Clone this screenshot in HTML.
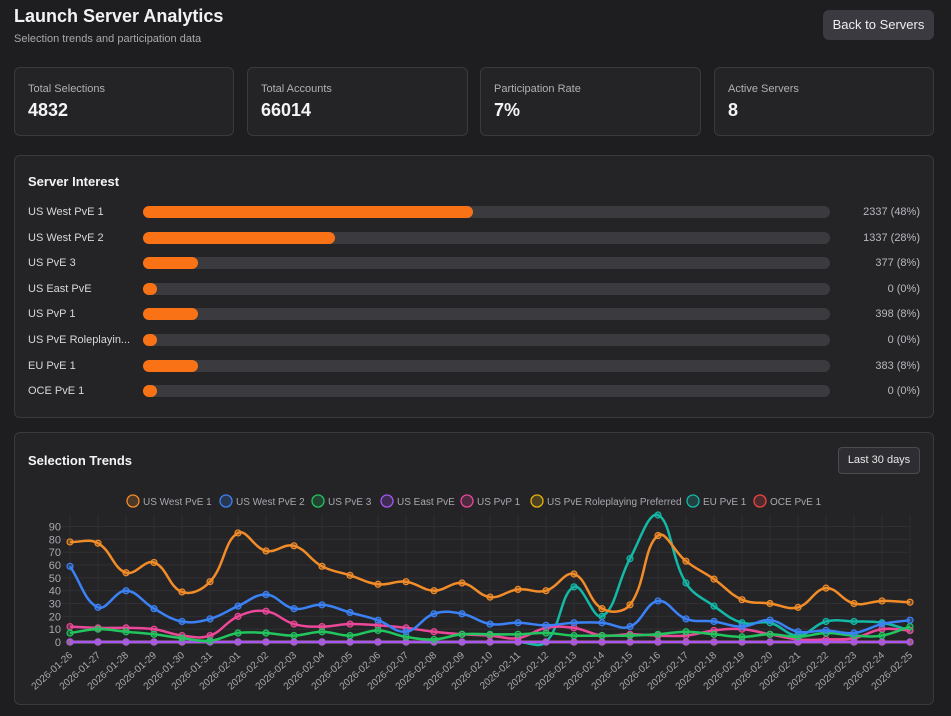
<!DOCTYPE html>
<html><head><meta charset="utf-8">
<style>
*{box-sizing:border-box;margin:0;padding:0}
body{width:951px;height:716px;background:#1e1e20;font-family:"Liberation Sans",sans-serif;color:#e8e8ea;position:relative;overflow:hidden}
.abs{position:absolute}
h1{position:absolute;left:14px;top:6px;font-size:18px;font-weight:bold;color:#f2f2f4}
.sub{left:14px;top:33px;font-size:11px;color:#a8a8ae}
.btn{left:823px;top:10px;width:111px;height:30px;background:#3a3a40;border-radius:6px;font-size:13px;line-height:30px;text-align:center;color:#f0f0f2}
.card{background:#242427;border:1px solid #3a3a3e;border-radius:6px}
.sl{font-size:11px;color:#b0b0b6;position:absolute;left:13px;top:15px}
.sv{font-size:18px;font-weight:bold;position:absolute;left:13px;top:32px;color:#f4f4f6}
.ct{font-size:13px;font-weight:bold;color:#f4f4f6}
.rl{font-size:11px;color:#d8d8dc;left:28px}
.tr{left:143px;width:687px;height:12px;background:#3a3a3f;border-radius:6px}
.fl{position:absolute;left:0;top:0;height:12px;background:#f97316;border-radius:6px;min-width:14px}
.rv{font-size:11px;color:#b8b8be;right:31px;text-align:right}
</style></head><body>
<h1>Launch Server Analytics</h1>
<div class="abs sub">Selection trends and participation data</div>
<div class="abs btn">Back to Servers</div>

<div class="abs card" style="left:14px;top:67px;width:220px;height:69px"><div class="sl">Total Selections</div><div class="sv">4832</div></div>
<div class="abs card" style="left:247px;top:67px;width:221px;height:69px"><div class="sl">Total Accounts</div><div class="sv">66014</div></div>
<div class="abs card" style="left:480px;top:67px;width:221px;height:69px"><div class="sl">Participation Rate</div><div class="sv">7%</div></div>
<div class="abs card" style="left:714px;top:67px;width:220px;height:69px"><div class="sl">Active Servers</div><div class="sv">8</div></div>

<div class="abs card" style="left:14px;top:155px;width:920px;height:263px"></div>
<div class="abs ct" style="left:28px;top:174px">Server Interest</div>
<div id="rows"></div>

<div class="abs card" style="left:14px;top:432px;width:920px;height:273px"></div>
<div class="abs ct" style="left:28px;top:453px">Selection Trends</div>
<div class="abs" style="left:838px;top:447px;width:82px;height:27px;background:#2e2e32;border:1px solid #4a4a50;border-radius:4px;font-size:11px;line-height:25px;text-align:center;color:#e8e8ea">Last 30 days</div>
<svg id="chart" class="abs" style="left:0;top:0" width="951" height="716"></svg>

<script>
const servers=["US West PvE 1","US West PvE 2","US PvE 3","US East PvE","US PvP 1","US PvE Roleplayin...","EU PvE 1","OCE PvE 1"];
const counts=[2337,1337,377,0,398,0,383,0];
const pcts=[48,28,8,0,8,0,8,0];
const rows=document.getElementById('rows');
servers.forEach((s,i)=>{
  const y=206+i*25.6;
  const l=document.createElement('div');l.className='abs rl';l.style.top=y+'px';l.textContent=s;
  
  
  rows.appendChild(l);
  const t=document.createElement('div');t.className='abs tr';t.style.top=y+'px';
  
  
  const f=document.createElement('div');f.className='fl';f.style.width=(pcts[i]/100*687)+'px';
  
  
  t.appendChild(f);rows.appendChild(t);
  const v=document.createElement('div');v.className='abs rv';v.style.top=y+'px';v.textContent=counts[i]+' ('+pcts[i]+'%)';
  
  
  rows.appendChild(v);
});
</script>
<script>
const dates=["2026-01-26","2026-01-27","2026-01-28","2026-01-29","2026-01-30","2026-01-31","2026-02-01","2026-02-02","2026-02-03","2026-02-04","2026-02-05","2026-02-06","2026-02-07","2026-02-08","2026-02-09","2026-02-10","2026-02-11","2026-02-12","2026-02-13","2026-02-14","2026-02-15","2026-02-16","2026-02-17","2026-02-18","2026-02-19","2026-02-20","2026-02-21","2026-02-22","2026-02-23","2026-02-24","2026-02-25"];
const yTicks=[0,10,20,30,40,50,60,70,80,90];
const seriesNames=["US West PvE 1","US West PvE 2","US PvE 3","US East PvE","US PvP 1","US PvE Roleplaying Preferred","EU PvE 1","OCE PvE 1"];
const seriesColors=["#f28c28","#3b82f6","#22c55e","#a855f7","#ec4899","#eab308","#14b8a6","#ef4444"];
const westPvE1=[78,77,54,62,39,47,85,71,75,59,52,45,47,40,46,35,41,40,53,26,29,83,63,49,33,30,27,42,30,32,31];
const westPvE2=[59,27,40,26,16,18,28,37,26,29,23,17,8,22,22,14,15,13,15,15,12,32,18,16,12,17,8,9,7,14,17];
const pve3=[7,10,8,6,3,1,7,7,5,8,5,9,4,2,6,6,6,7,5,5,5,6,8,6,4,6,4,7,5,5,12];
const eastPvE=[0,0,0,0,0,0,0,0,0,0,0,0,0,0,0,0,0,0,0,0,0,0,0,0,0,0,0,0,0,0,0];
const pvp1=[12,11,11,10,5,5,20,24,14,12,14,13,11,8,6,5,3,11,11,5,6,5,5,9,10,6,2,2,3,10,9];
const roleplay=[0,0,0,0,0,0,0,0,0,0,0,0,0,0,0,0,0,0,0,0,0,0,0,0,0,0,0,0,0,0,0];
const euPvE1=[0,0,0,0,0,0,0,0,0,0,0,0,0,0,0,0,0,0,43,20,65,99,46,28,15,15,5,16,16,15,9];
const ocePvE1=[0,0,0,0,0,0,0,0,0,0,0,0,0,0,0,0,0,0,0,0,0,0,0,0,0,0,0,0,0,0,0];
const allSeries=[westPvE1,westPvE2,pve3,eastPvE,pvp1,roleplay,euPvE1,ocePvE1];
const drawOrder=[7,6,5,4,3,2,1,0];

const svg=document.getElementById('chart');const NS='http://www.w3.org/2000/svg';
const X0=70,X1=910,Y0=642,YMAX=99,YTOP=515;
const xs=i=>X0+i*(X1-X0)/(dates.length-1);
const ys=v=>Y0-v*(Y0-YTOP)/YMAX;
function el(t,a){const e=document.createElementNS(NS,t);for(const k in a)e.setAttribute(k,a[k]);svg.appendChild(e);return e;}
yTicks.forEach(t=>{
  const g=el('line',{x1:62,x2:X1,y1:ys(t),y2:ys(t),stroke:'#303034','stroke-width':1});
  
  
  const tx=el('text',{x:61,y:ys(t)+4,'text-anchor':'end','font-size':11,fill:'#a8a8ae','font-family':'Liberation Sans, sans-serif'});
  tx.textContent=t;
  
  
});
dates.forEach((d,i)=>{
  const g=el('line',{x1:xs(i),x2:xs(i),y1:YTOP,y2:Y0+5,stroke:'#2e2e32','stroke-width':1});
  
  
  const tx=el('text',{x:xs(i)+3,y:Y0+14,'text-anchor':'end','font-size':10,fill:'#a8a8ae','font-family':'Liberation Sans, sans-serif',transform:`rotate(-42 ${xs(i)+3} ${Y0+14})`});
  tx.textContent=d;
  
  
});
function path(vals){
  const p=vals.map((v,i)=>[xs(i),ys(v)]);const T=0.4;
  let d='M'+p[0][0]+' '+p[0][1];
  const cp=p.map((c,i)=>{
    const pr=p[Math.max(0,i-1)],nx=p[Math.min(p.length-1,i+1)];
    const d01=Math.hypot(c[0]-pr[0],c[1]-pr[1]),d12=Math.hypot(nx[0]-c[0],nx[1]-c[1]);
    let fa=d01/(d01+d12)||0,fb=d12/(d01+d12)||0;fa*=T;fb*=T;
    return {p:[c[0]-fa*(nx[0]-pr[0]),c[1]-fa*(nx[1]-pr[1])],n:[c[0]+fb*(nx[0]-pr[0]),c[1]+fb*(nx[1]-pr[1])]};
  });
  for(let i=1;i<p.length;i++)d+=` C${cp[i-1].n[0]} ${cp[i-1].n[1]} ${cp[i].p[0]} ${cp[i].p[1]} ${p[i][0]} ${p[i][1]}`;
  return d;
}
drawOrder.forEach(s=>{
  const c=seriesColors[s];
  const ln=el('path',{d:path(allSeries[s]),fill:'none',stroke:c,'stroke-width':2.5});
  
  
  allSeries[s].forEach((v,i)=>{
    const pt=el('circle',{cx:xs(i),cy:ys(v),r:3,fill:c+'55',stroke:c,'stroke-width':1.2});
    
    
  });
});
const legX=[133,226,318,387,467,537,693,760];
seriesNames.forEach((n,i)=>{
  const c=el('circle',{cx:legX[i],cy:501,r:6,fill:seriesColors[i]+'33',stroke:seriesColors[i],'stroke-width':1.3});
  
  
  const t=el('text',{x:legX[i]+10,y:505,'font-size':10,fill:'#a8a8ae','font-family':'Liberation Sans, sans-serif'});
  t.textContent=n;
  
  
});
</script>
</body></html>
